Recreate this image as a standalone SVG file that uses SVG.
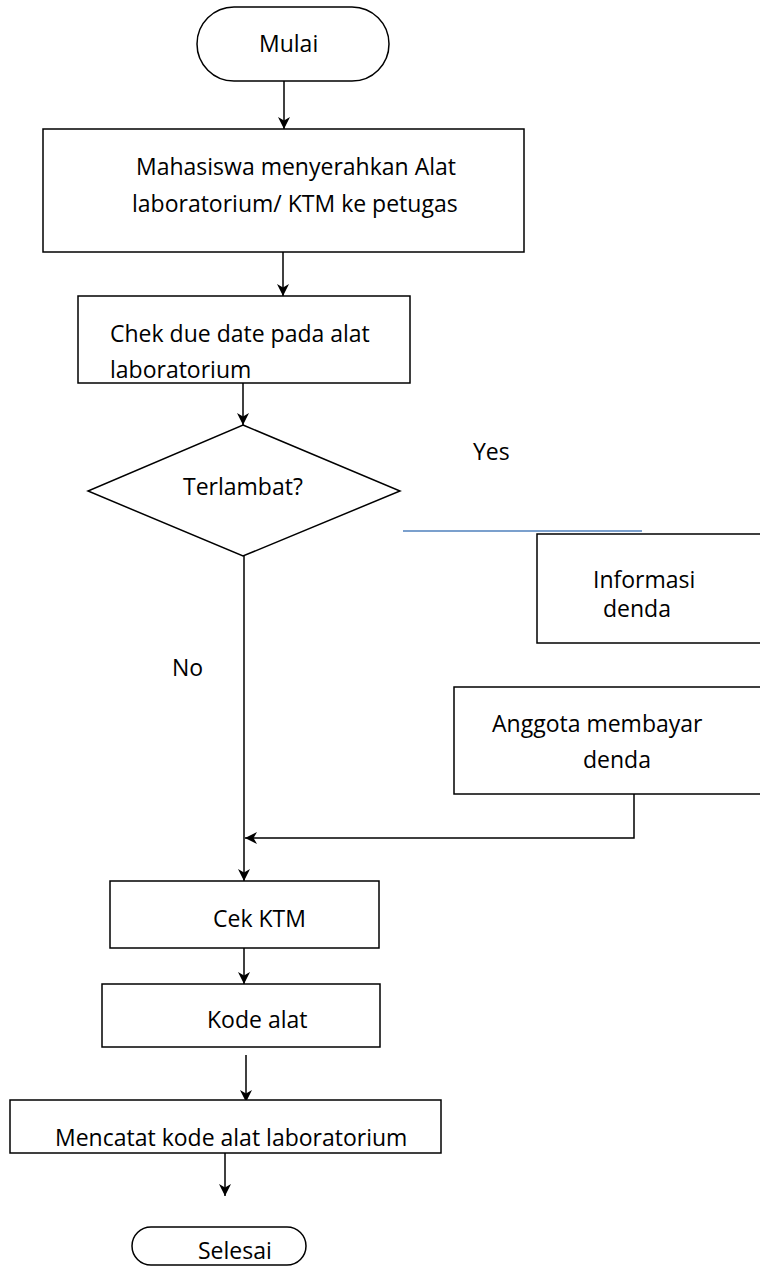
<svg xmlns="http://www.w3.org/2000/svg" width="760" height="1267" viewBox="0 0 760 1267">
<defs>
<marker id="arr" viewBox="0 0 12 12" refX="12" refY="6" markerWidth="12" markerHeight="12" markerUnits="userSpaceOnUse" orient="auto">
<path d="M0,0 L12,6 L0,12 L3.5,6 z" fill="#000"/>
</marker>
<style>
.s{fill:#fff;stroke:#000;stroke-width:1.5}
.t{font-family:"Open Sans","Liberation Sans",sans-serif;font-size:23px;fill:#000}
.c{fill:none;stroke:#000;stroke-width:1.5}
</style>
</defs>
<rect width="760" height="1267" fill="#fff"/>
<g id="connectors">
<line class="c" x1="284" y1="81" x2="284" y2="129" marker-end="url(#arr)"/>
<line class="c" x1="283" y1="252" x2="283" y2="296" marker-end="url(#arr)"/>
<line class="c" x1="243" y1="383" x2="243" y2="425" marker-end="url(#arr)"/>
<line class="c" x1="244" y1="556" x2="244" y2="881" marker-end="url(#arr)"/>
<polyline class="c" points="634,794 634,838 245,838" marker-end="url(#arr)"/>
<line class="c" x1="244" y1="935" x2="244" y2="984" marker-end="url(#arr)"/>
<line class="c" x1="246" y1="1055" x2="246" y2="1102" marker-end="url(#arr)"/>
<line class="c" x1="225" y1="1153" x2="225" y2="1196" marker-end="url(#arr)"/>
<line x1="403" y1="531" x2="642" y2="531" stroke="#4f81bd" stroke-width="1.5"/>
</g>
<g id="mulai">
<rect class="s" x="197" y="7" width="192" height="74" rx="37"/>
<text class="t" x="259" y="52">Mulai</text>
</g>
<g id="serah">
<rect class="s" x="43" y="129" width="481" height="123"/>
<text class="t" x="136" y="175">Mahasiswa menyerahkan Alat</text>
<text class="t" x="132" y="212">laboratorium/ KTM ke petugas</text>
</g>
<g id="chek">
<rect class="s" x="78" y="296" width="332" height="87"/>
<text class="t" x="110" y="342">Chek due date pada alat</text>
<text class="t" x="110" y="378">laboratorium</text>
</g>
<g id="terlambat">
<polygon class="s" points="243,425 400,491 243,556 88,491"/>
<text class="t" x="183" y="495">Terlambat?</text>
</g>
<g id="label-yes"><text class="t" x="473" y="460">Yes</text></g>
<g id="label-no"><text class="t" x="172" y="676">No</text></g>
<g id="informasi">
<rect class="s" x="537" y="534" width="240" height="109"/>
<text class="t" x="593" y="588">Informasi</text>
<text class="t" x="603" y="617">denda</text>
</g>
<g id="bayar">
<rect class="s" x="454" y="687" width="320" height="107"/>
<text class="t" x="492" y="732">Anggota membayar</text>
<text class="t" x="583" y="768">denda</text>
</g>
<g id="cekktm">
<rect class="s" x="110" y="881" width="269" height="67"/>
<text class="t" x="213" y="927">Cek KTM</text>
</g>
<g id="kode">
<rect class="s" x="102" y="984" width="278" height="63"/>
<text class="t" x="207" y="1028">Kode alat</text>
</g>
<g id="mencatat">
<rect class="s" x="10" y="1100" width="431" height="53"/>
<text class="t" x="55" y="1146">Mencatat kode alat laboratorium</text>
</g>
<g id="selesai">
<rect class="s" x="132" y="1227" width="174" height="38" rx="19"/>
<text class="t" x="198" y="1259">Selesai</text>
</g>
</svg>
